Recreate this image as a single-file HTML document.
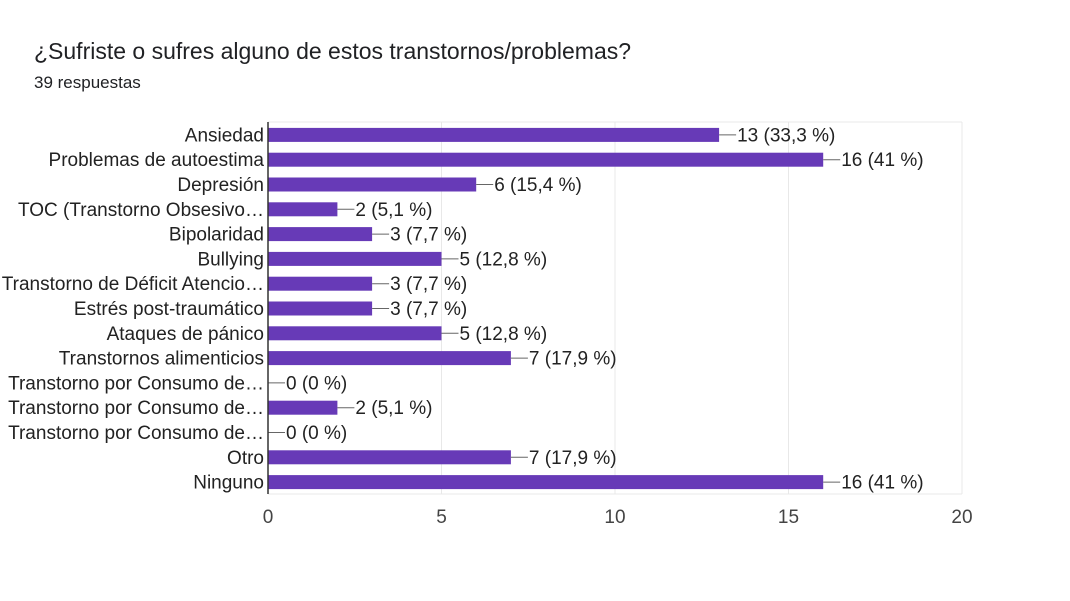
<!DOCTYPE html>
<html><head><meta charset="utf-8">
<style>
body{margin:0;background:#fff;width:1070px;height:596px;overflow:hidden;font-family:"Liberation Sans",Arial,sans-serif;}
</style></head><body>
<svg width="1070" height="596" xmlns="http://www.w3.org/2000/svg">
<text x="34" y="59" font-size="23" fill="#202124">¿Sufriste o sufres alguno de estos transtornos/problemas?</text>
<text x="34" y="88" font-size="17" fill="#202124">39 respuestas</text>
<g id="plot"></g>
</svg>
<script>
const categories=["Ansiedad","Problemas de autoestima","Depresión","TOC (Transtorno Obsesivo…","Bipolaridad","Bullying","Transtorno de Déficit Atencio…","Estrés post-traumático","Ataques de pánico","Transtornos alimenticios","Transtorno por Consumo de…","Transtorno por Consumo de…","Transtorno por Consumo de…","Otro","Ninguno"];
const values=[13,16,6,2,3,5,3,3,5,7,0,2,0,7,16];
const valueLabels=["13 (33,3 %)","16 (41 %)","6 (15,4 %)","2 (5,1 %)","3 (7,7 %)","5 (12,8 %)","3 (7,7 %)","3 (7,7 %)","5 (12,8 %)","7 (17,9 %)","0 (0 %)","2 (5,1 %)","0 (0 %)","7 (17,9 %)","16 (41 %)"];
const ticks=[0,5,10,15,20];
const NS="http://www.w3.org/2000/svg";
const plotG=document.getElementById('plot');
const X0=268,X1=962,PTOP=122,PBOT=494,XMAX=20;
const xs=v=>X0+(v/XMAX)*(X1-X0);
const rowH=(PBOT-PTOP)/categories.length;
const yc=i=>PTOP+rowH*(i+0.5)+0.5;
function mk(t,a){const e=document.createElementNS(NS,t);for(const k in a)e.setAttribute(k,a[k]);plotG.appendChild(e);return e;}
ticks.forEach(t=>{
  if(t>0){const l=mk('line',{x1:xs(t),x2:xs(t),y1:PTOP,y2:PBOT,stroke:'#e8e8e8','stroke-width':1});
  
  }
  const tx=mk('text',{x:xs(t),y:523,'font-size':19,fill:'#444','text-anchor':'middle'});
  tx.textContent=t;
  
  
});
const tl=mk('line',{x1:X0,x2:X1,y1:PTOP,y2:PTOP,stroke:'#e8e8e8'});


const bl=mk('line',{x1:X0,x2:X1,y1:PBOT,y2:PBOT,stroke:'#e8e8e8'});


categories.forEach((c,i)=>{
  const y=yc(i),v=values[i],xe=xs(v);
  const lab=mk('text',{x:X0-4,y:y+6.5,'font-size':19,fill:'#222','text-anchor':'end'});
  lab.textContent=c;
  
  
  if(v>0){const r=mk('rect',{x:X0,y:y-7,width:xe-X0,height:14,fill:'#673ab7'});
  
  }
  const ln=mk('line',{x1:xe,x2:xe+17,y1:y,y2:y,stroke:'#666','stroke-width':1});
  
  
  const vt=mk('text',{x:xe+18,y:y+6.5,'font-size':19,fill:'#222'});
  vt.textContent=valueLabels[i];
  
  
});
const ax=mk('line',{x1:X0,x2:X0,y1:PTOP,y2:PBOT,stroke:'#333','stroke-width':1.5});


</script>
</body></html>
